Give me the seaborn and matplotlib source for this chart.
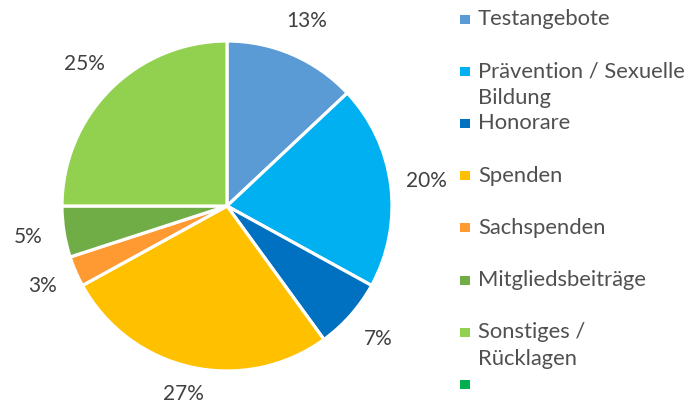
import matplotlib
matplotlib.use("Agg")
import matplotlib.pyplot as plt
from matplotlib.patches import Rectangle
import seaborn as sns

# Data
categories = ["Testangebote", "Prävention / Sexuelle\nBildung", "Honorare", "Spenden",
              "Sachspenden", "Mitgliedsbeiträge", "Sonstiges /\nRücklagen", ""]
shares = [13, 20, 7, 27, 3, 5, 25, 0]
colors = ["#5B9BD5", "#00B0F0", "#0070C0", "#FFC000",
          "#FF9A33", "#70AD47", "#92D050", "#00B050"]

sns.set_theme(style="white")
plt.rcParams['font.family'] = ['Lato', 'DejaVu Sans']

W, H = 700, 403
fig = plt.figure(figsize=(W / 100, H / 100), dpi=100)
fig.patch.set_facecolor("white")

# pie area: center (227, 206) px, radius 165 px
cx, cy, r = 227, 206, 165
ax = fig.add_axes([(cx - r) / W, (H - cy - r) / H, 2 * r / W, 2 * r / H])

pal = sns.color_palette(colors)
vals = [v for v in shares if v > 0]
wedges, _, autotexts = ax.pie(
    vals, colors=pal[:len(vals)], startangle=90, counterclock=False,
    radius=1, autopct=lambda p: f"{p:.0f}%", pctdistance=1.22,
    wedgeprops=dict(edgecolor="white", linewidth=2.3),
    textprops=dict(color="#404040", fontsize=15))
for t in autotexts:
    x, y = t.get_position()
    if y < -1.14:
        t.set_position((x, -1.14))
ax.set_xlim(-1, 1)
ax.set_ylim(-1, 1)
ax.set_aspect("auto")
ax.axis("off")

# legend, Excel style (fixed slots)
lx, ly0, step, line_h = 465, 19, 52.2, 27
for i, (lab, col) in enumerate(zip(categories, pal)):
    y = ly0 + i * step
    s = 9
    fig.add_artist(Rectangle(((lx - s / 2) / W, (H - y - s / 2) / H), s / W, s / H,
                             transform=fig.transFigure, facecolor=col, edgecolor="none"))
    for k, line in enumerate(lab.split("\n")):
        fig.text((lx + 13) / W, (H - y - k * line_h) / H, line, ha="left", va="center",
                 color="#505050", fontsize=15.8)

fig.savefig("out.png", dpi=100)
